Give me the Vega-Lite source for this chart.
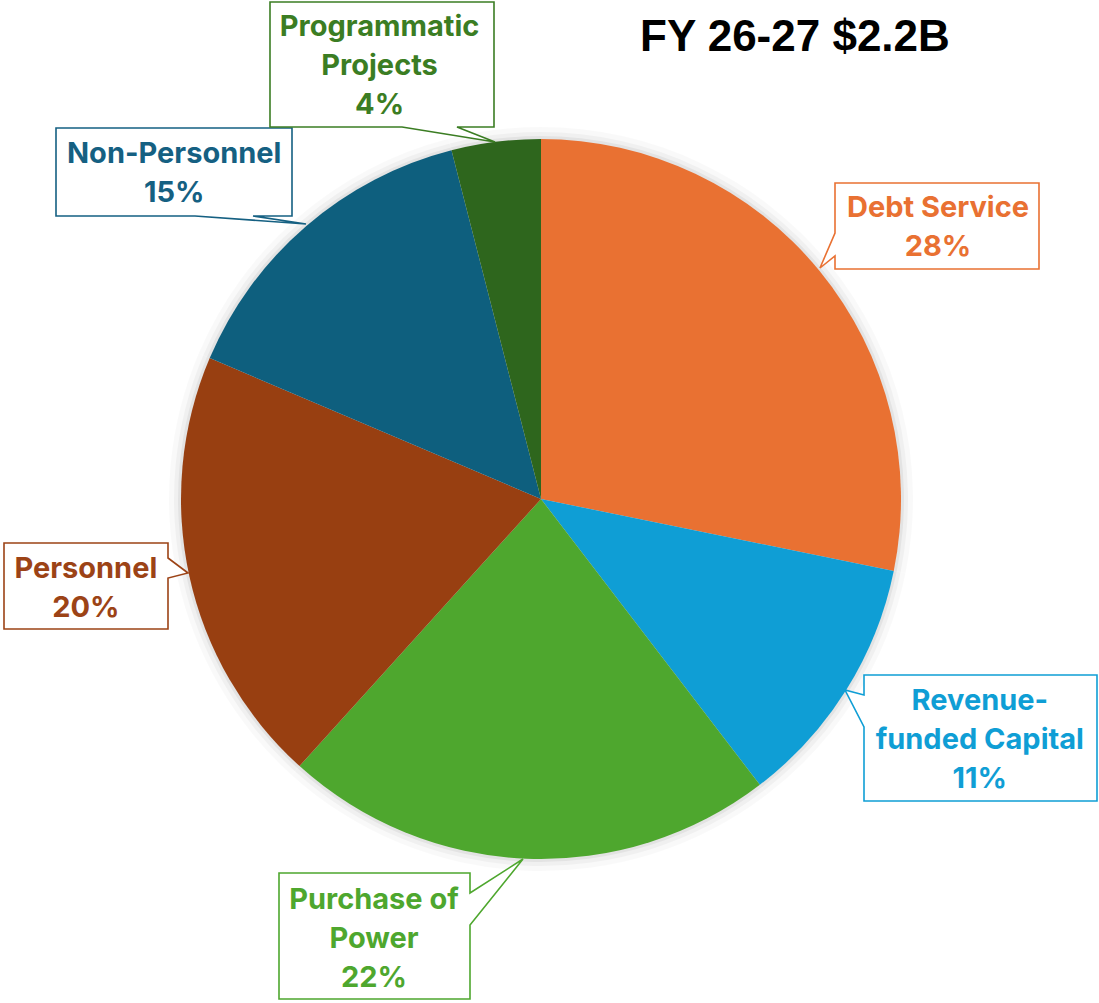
{
  "$schema": "https://vega.github.io/schema/vega-lite/v6.json",
  "width": 1082,
  "height": 998,
  "padding": {"left": 0, "top": 0, "right": 17, "bottom": 5},
  "autosize": {"type": "none"},
  "background": "#ffffff",
  "config": {"view": {"stroke": null}},
  "title": {"text": "FY 26-27 $2.2B", "font": "Liberation Sans", "fontSize": 44, "fontWeight": "bold", "color": "#000000", "anchor": "start", "frame": "group", "offset": -96, "dx": 640, "dy": 38},
  "data": {"values": [
    {"category": "Debt Service", "share": 28.2, "rank": 1, "label": "Debt Service\n28%"},
    {"category": "Revenue-funded Capital", "share": 11.4, "rank": 2, "label": "Revenue-\nfunded Capital\n11%"},
    {"category": "Purchase of Power", "share": 22.1, "rank": 3, "label": "Purchase of\nPower\n22%"},
    {"category": "Personnel", "share": 19.7, "rank": 4, "label": "Personnel\n20%"},
    {"category": "Non-Personnel", "share": 14.6, "rank": 5, "label": "Non-Personnel\n15%"},
    {"category": "Programmatic Projects", "share": 4.0, "rank": 6, "label": "Programmatic\nProjects\n4%"}
  ]},
  "layer": [
    {
      "mark": {"type": "arc", "outerRadius": 372, "color": "#000000", "opacity": 0.025},
      "encoding": {"theta": {"field": "share", "type": "quantitative", "stack": true}, "order": {"field": "rank", "type": "quantitative"}}
    },
    {
      "mark": {"type": "arc", "outerRadius": 367, "color": "#000000", "opacity": 0.035},
      "encoding": {"theta": {"field": "share", "type": "quantitative", "stack": true}, "order": {"field": "rank", "type": "quantitative"}}
    },
    {
      "mark": {"type": "arc", "outerRadius": 363, "color": "#000000", "opacity": 0.05},
      "encoding": {"theta": {"field": "share", "type": "quantitative", "stack": true}, "order": {"field": "rank", "type": "quantitative"}}
    },
    {
      "mark": {"type": "arc", "outerRadius": 360},
      "encoding": {
        "theta": {"field": "share", "type": "quantitative", "stack": true},
        "order": {"field": "rank", "type": "quantitative"},
        "color": {"field": "category", "type": "nominal", "legend": null,
          "scale": {"domain": ["Debt Service", "Revenue-funded Capital", "Purchase of Power", "Personnel", "Non-Personnel", "Programmatic Projects"],
                    "range": ["#E97132", "#0F9ED5", "#4EA72E", "#983F11", "#0E5F7E", "#2E661D"]}}
      }
    },
    {
      "mark": {"type": "point", "filled": false, "fill": "#ffffff", "fillOpacity": 1, "opacity": 1, "strokeWidth": 1.6, "size": 4, "strokeJoin": "miter"},
      "encoding": {
        "shape": {"field": "category", "type": "nominal", "legend": null,
          "scale": {"domain": ["Debt Service", "Revenue-funded Capital", "Purchase of Power", "Personnel", "Non-Personnel", "Programmatic Projects"],
                    "range": [
                      "M294,-316L498,-316L498,-230L294,-230L294,-243L279,-231L294,-266Z",
                      "M323,176L556,176L556,302L323,302L323,228L304,191L323,196Z",
                      "M-262,374L-71,374L-71,394L-18,360L-71,426L-71,500L-262,500Z",
                      "M-537,44L-373,44L-373,59L-353,74L-373,79L-373,130L-537,130Z",
                      "M-485,-371L-249,-371L-249,-283L-288,-283L-235,-275L-346,-283L-485,-283Z",
                      "M-271,-497L-47,-497L-47,-372L-84,-372L-46,-357L-139,-372L-271,-372Z"
                    ]}},
        "stroke": {"field": "category", "type": "nominal", "legend": null,
          "scale": {"domain": ["Debt Service", "Revenue-funded Capital", "Purchase of Power", "Personnel", "Non-Personnel", "Programmatic Projects"],
                    "range": ["#E97132", "#0F9ED5", "#4EA72E", "#9C4316", "#156082", "#3B7D23"]}}
      }
    },
    {
      "mark": {"type": "text", "radius": 479, "dx": 26, "dy": 12, "font": "Inter", "fontSize": 29, "fontWeight": "bold", "lineHeight": 39, "lineBreak": "\n", "align": "center", "baseline": "middle", "fill": "#E97132"},
      "encoding": {"theta": {"field": "share", "type": "quantitative", "stack": true}, "order": {"field": "rank", "type": "quantitative"},
        "text": {"condition": {"test": "datum.category === 'Debt Service'", "field": "label", "type": "nominal"}, "value": ""}}
    },
    {
      "mark": {"type": "text", "radius": 500, "dx": 15, "dy": -63, "font": "Inter", "fontSize": 29, "fontWeight": "bold", "lineHeight": 39, "lineBreak": "\n", "align": "center", "baseline": "middle", "fill": "#0F9ED5"},
      "encoding": {"theta": {"field": "share", "type": "quantitative", "stack": true}, "order": {"field": "rank", "type": "quantitative"},
        "text": {"condition": {"test": "datum.category === 'Revenue-funded Capital'", "field": "label", "type": "nominal"}, "value": ""}}
    },
    {
      "mark": {"type": "text", "radius": 440, "dx": -149, "dy": -39, "font": "Inter", "fontSize": 29, "fontWeight": "bold", "lineHeight": 39, "lineBreak": "\n", "align": "center", "baseline": "middle", "fill": "#4EA72E"},
      "encoding": {"theta": {"field": "share", "type": "quantitative", "stack": true}, "order": {"field": "rank", "type": "quantitative"},
        "text": {"condition": {"test": "datum.category === 'Purchase of Power'", "field": "label", "type": "nominal"}, "value": ""}}
    },
    {
      "mark": {"type": "text", "radius": 463, "dx": -3, "dy": -30, "font": "Inter", "fontSize": 29, "fontWeight": "bold", "lineHeight": 39, "lineBreak": "\n", "align": "center", "baseline": "middle", "fill": "#9C4316"},
      "encoding": {"theta": {"field": "share", "type": "quantitative", "stack": true}, "order": {"field": "rank", "type": "quantitative"},
        "text": {"condition": {"test": "datum.category === 'Personnel'", "field": "label", "type": "nominal"}, "value": ""}}
    },
    {
      "mark": {"type": "text", "radius": 486, "dx": -50, "dy": 24, "font": "Inter", "fontSize": 29, "fontWeight": "bold", "lineHeight": 39, "lineBreak": "\n", "align": "center", "baseline": "middle", "fill": "#156082"},
      "encoding": {"theta": {"field": "share", "type": "quantitative", "stack": true}, "order": {"field": "rank", "type": "quantitative"},
        "text": {"condition": {"test": "datum.category === 'Non-Personnel'", "field": "label", "type": "nominal"}, "value": ""}}
    },
    {
      "mark": {"type": "text", "radius": 450, "dx": -105, "dy": -26, "font": "Inter", "fontSize": 29, "fontWeight": "bold", "lineHeight": 39, "lineBreak": "\n", "align": "center", "baseline": "middle", "fill": "#3B7D23"},
      "encoding": {"theta": {"field": "share", "type": "quantitative", "stack": true}, "order": {"field": "rank", "type": "quantitative"},
        "text": {"condition": {"test": "datum.category === 'Programmatic Projects'", "field": "label", "type": "nominal"}, "value": ""}}
    }
  ]
}
